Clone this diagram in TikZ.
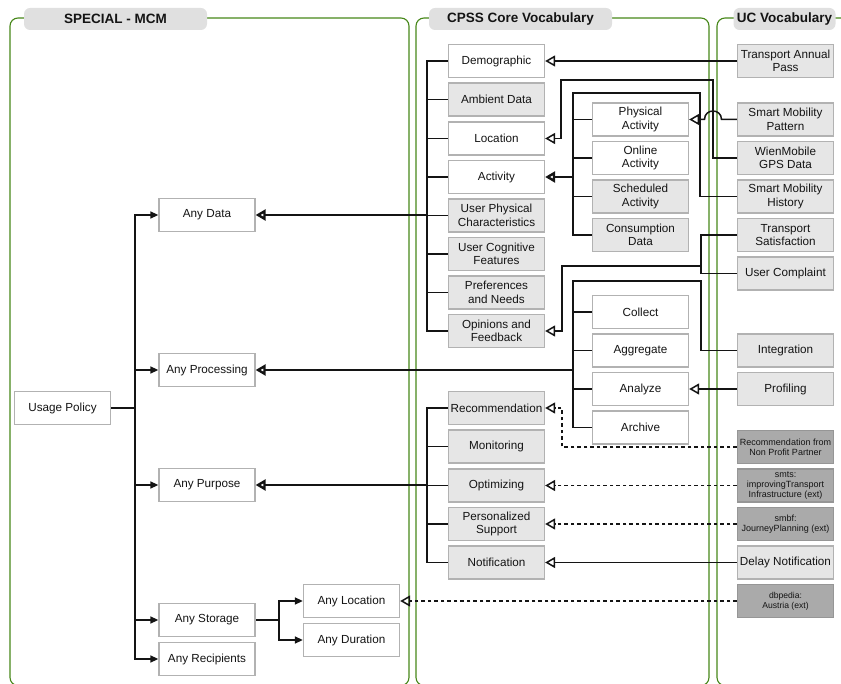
\documentclass[tikz,border=0pt]{standalone}
\usepackage{fontspec}
\setmainfont{Liberation Sans}
\usetikzlibrary{arrows.meta}

\definecolor{panelgreen}{RGB}{70,135,25}
\definecolor{boxline}{RGB}{178,178,178}
\definecolor{lightfill}{RGB}{230,230,230}
\definecolor{darkfill}{RGB}{170,170,170}
\definecolor{darkline}{RGB}{150,150,150}
\definecolor{headfill}{RGB}{224,224,224}
\definecolor{ink}{RGB}{20,20,20}

\pgfdeclarelayer{panels}
\pgfdeclarelayer{wires}
\pgfsetlayers{panels,wires,main}

\newcommand\boxfont{\fontsize{11.7}{13.4}\selectfont}
\newcommand\extfont{\fontsize{9}{10.4}\selectfont}
\newcommand\headfont{\fontsize{13.5}{16}\selectfont\bfseries}

\tikzset{
  box/.style={draw=boxline, line width=1.3pt, fill=white, minimum width=96pt,
    minimum height=33pt, inner sep=0pt, align=center, font=\boxfont, text=ink},
  gbox/.style={box, fill=lightfill},
  xbox/.style={box, fill=darkfill, draw=darkline, font=\extfont},
  header/.style={fill=headfill, rounded corners=6pt, minimum height=22pt,
    inner sep=0pt, font=\headfont, text=ink},
  panel/.style={draw=panelgreen, line width=1.1pt, rounded corners=8pt},
  wire/.style={draw=ink, line width=1.5pt},
  heavy/.style={draw=ink, line width=2.4pt},
  opentip/.style={-{Triangle[open, length=10pt, width=11pt]}},
  solidtip/.style={-{Triangle[length=8pt, width=7pt]}},
  dashwire/.style={wire, dash pattern=on 3.5pt off 3pt},
}

\begin{document}
\begin{tikzpicture}[x=1pt, y=-1pt]
\useasboundingbox (0,0) rectangle (841,684);
\clip (0,0) rectangle (841,684);

% ---- swimlane frames ----
\begin{pgfonlayer}{panels}
  \draw[panel] (10,18) rectangle (409,685.5);
  \draw[panel] (416,18) rectangle (709,685.5);
  \draw[panel] (717,18) rectangle (870,685.5);
\end{pgfonlayer}

\node[header, minimum width=183pt] (hspecial) at (115.5,19) {SPECIAL - MCM};
\node[header, minimum width=183pt] (hcpss) at (520.5,19) {CPSS Core Vocabulary};
\node[header, minimum width=102pt] (huc) at (784.5,19) {UC Vocabulary};

% ---- SPECIAL policy tree ----
\node[box] (usage) at (62.5,408) {Usage Policy};
\node[box] (anydata) at (207,215) {Any Data};
\node[box] (anyproc) at (207,370) {Any Processing};
\node[box] (anypurp) at (207,485) {Any Purpose};
\node[box] (anystor) at (207,620) {Any Storage};
\node[box] (anyrec) at (207,659) {Any Recipients};
\node[box] (anyloc) at (351.5,601) {Any Location};
\node[box] (anydur) at (351.5,640) {Any Duration};

% ---- CPSS core: data categories ----
\node[box]  (demo)   at (496.5,61)    {Demographic};
\node[gbox] (amb)    at (496.5,99.5)  {Ambient Data};
\node[box]  (loc)    at (496.5,138.5) {Location};
\node[box]  (act)    at (496.5,177)   {Activity};
\node[gbox] (phys)   at (496.5,215.5) {User Physical\\Characteristics};
\node[gbox] (cogn)   at (496.5,254)   {User Cognitive\\Features};
\node[gbox] (pref)   at (496.5,292.5) {Preferences\\and Needs};
\node[gbox] (opin)   at (496.5,331)   {Opinions and\\Feedback};

% ---- CPSS core: purposes ----
\node[gbox] (recom)  at (496.5,408)   {Recommendation};
\node[gbox] (monit)  at (496.5,446.5) {Monitoring};
\node[gbox] (optim)  at (496.5,485.5) {Optimizing};
\node[gbox] (pers)   at (496.5,524)   {Personalized\\Support};
\node[gbox] (notif)  at (496.5,562.5) {Notification};

% ---- CPSS core: activities and processing ----
\node[box]  (pact)   at (640.5,119.5) {Physical\\Activity};
\node[box]  (oact)   at (640.5,158)   {Online\\Activity};
\node[gbox] (sact)   at (640.5,196.5) {Scheduled\\Activity};
\node[gbox] (cons)   at (640.5,235)   {Consumption\\Data};
\node[box]  (coll)   at (640.5,312)   {Collect};
\node[box]  (aggr)   at (640.5,350.5) {Aggregate};
\node[box]  (anal)   at (640.5,389)   {Analyze};
\node[box]  (arch)   at (640.5,427.5) {Archive};

% ---- use-case vocabulary ----
\node[gbox] (tap)    at (785.5,61)    {Transport Annual\\Pass};
\node[gbox] (smp)    at (785.5,119.5) {Smart Mobility\\Pattern};
\node[gbox] (wgd)    at (785.5,158)   {WienMobile\\GPS Data};
\node[gbox] (smh)    at (785.5,196.5) {Smart Mobility\\History};
\node[gbox] (tsat)   at (785.5,235)   {Transport\\Satisfaction};
\node[gbox] (ucmp)   at (785.5,273.5) {User Complaint};
\node[gbox] (integ)  at (785.5,350.5) {Integration};
\node[gbox] (prof)   at (785.5,389)   {Profiling};
\node[xbox] (rnpp)   at (785.5,447)   {Recommendation from\\Non Profit Partner};
\node[xbox] (smts)   at (785.5,485.5) {smts:\\improvingTransport\\Infrastructure (ext)};
\node[xbox] (smbf)   at (785.5,524)   {smbf:\\JourneyPlanning (ext)};
\node[gbox] (delay)  at (785.5,562.5) {Delay Notification};
\node[xbox, font=\fontsize{8.6}{10}\selectfont] (dbp) at (785.5,601) {dbpedia:\\Austria (ext)};

% ---- junction points ----
\coordinate (ptree) at (135,408);
\coordinate (stree) at (279,620);
\coordinate (dtrunk) at (427,215);
\coordinate (utrunk) at (427,485);
\coordinate (atrunk) at (573,177);
\coordinate (prtrunk) at (573,370);
\coordinate (smhtop) at (700,93);
\coordinate (wgdtop) at (713,80);
\coordinate (locdrop) at (561,138.5);
\coordinate (fbjoin) at (701,266);
\coordinate (fbdrop) at (562,331);
\coordinate (intop) at (701,281);
\coordinate (recdrop) at (562,408);
\coordinate (jumpr) at (721.5,119.5);
\coordinate (jumpl) at (704.5,119.5);

\begin{pgfonlayer}{wires}
  % policy tree
  \foreach \n in {anydata,anyproc,anypurp,anystor,anyrec}
    \draw[wire, solidtip] (usage.east) -- (ptree) |- (\n.west);
  \foreach \n in {anyloc,anydur}
    \draw[wire, solidtip] (anystor.east) -- (stree) |- (\n.west);

  % data categories into Any Data
  \foreach \n in {demo,amb,loc,act,phys,cogn,pref,opin}
    \draw[wire] (\n.west) -| (dtrunk);
  \draw[heavy, opentip] (dtrunk) -- (anydata.east);

  % purposes into Any Purpose
  \foreach \n in {recom,monit,optim,pers,notif}
    \draw[wire] (\n.west) -| (utrunk);
  \draw[heavy, opentip] (utrunk) -- (anypurp.east);

  % activity subclasses
  \foreach \n in {pact,oact,sact,cons}
    \draw[wire] (\n.west) -| (atrunk);
  \draw[wire] (smh.west) -| (smhtop) -| (atrunk);
  \draw[heavy, opentip] (atrunk) -- (act.east);

  % processing subclasses
  \foreach \n in {coll,aggr,anal,arch}
    \draw[wire] (\n.west) -| (prtrunk);
  \draw[wire] (integ.west) -| (intop) -| (prtrunk);
  \draw[heavy, opentip] (prtrunk) -- (anyproc.east);

  % use-case terms
  \draw[wire, opentip] (tap.west) -- (demo.east);
  \draw[wire, opentip] (wgd.west) -| (wgdtop) -| (locdrop) -- (loc.east);
  \draw[wire, opentip] (smp.west) -- (jumpr)
     .. controls (721.5,108.2) and (704.5,108.2) .. (jumpl) -- (pact.east);
  \draw[wire] (tsat.west) -| (fbjoin);
  \draw[wire] (ucmp.west) -| (fbjoin);
  \draw[wire, opentip] (fbjoin) -| (fbdrop) -- (opin.east);
  \draw[wire, opentip] (prof.west) -- (anal.east);
  \draw[dashwire, opentip] (rnpp.west) -| (recdrop) -- (recom.east);
  \draw[dashwire, opentip] (smts.west) -- (optim.east);
  \draw[dashwire, opentip] (smbf.west) -- (pers.east);
  \draw[wire, opentip] (delay.west) -- (notif.east);
  \draw[dashwire, opentip] (dbp.west) -- (anyloc.east);
\end{pgfonlayer}
\end{tikzpicture}
\end{document}
